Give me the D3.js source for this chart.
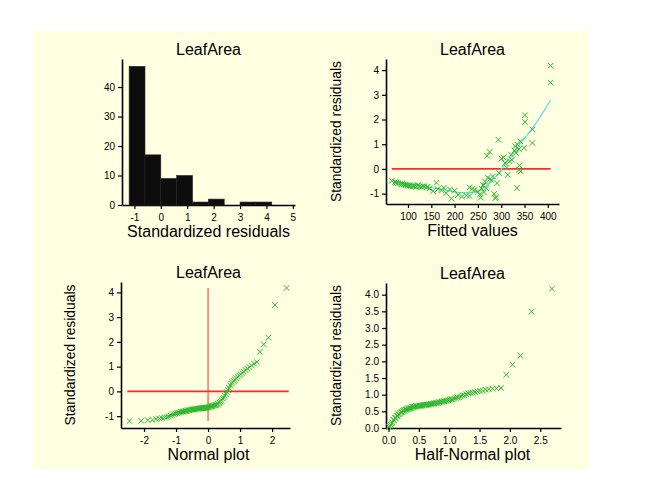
<!DOCTYPE html>
<html>
<head>
<meta charset="utf-8">
<script src="https://cdn.jsdelivr.net/npm/d3@7"></script>
<style>
  body { margin: 0; background: #fff; }
  text { font-family: "Liberation Sans", Arial, sans-serif; fill: #000; }
</style>
</head>
<body>
<svg id="chart"></svg>
<script>
// Standardized residuals of the LeafArea model (sorted), with matching fitted values
var stdResiduals = [
  -1.20, -1.19, -1.16, -1.15, -1.12, -1.10, -1.08, -1.06, -1.04, -1.01,
  -0.98, -0.95, -0.92, -0.90, -0.88, -0.86, -0.85, -0.83, -0.82, -0.81,
  -0.80, -0.79, -0.78, -0.77, -0.76, -0.75, -0.74, -0.73, -0.73, -0.72,
  -0.71, -0.71, -0.70, -0.70, -0.69, -0.69, -0.68, -0.68, -0.67, -0.67,
  -0.66, -0.66, -0.65, -0.65, -0.64, -0.63, -0.62, -0.60, -0.59, -0.58,
  -0.57, -0.56, -0.55, -0.53, -0.51, -0.48, -0.45, -0.41, -0.36, -0.30,
  -0.24, -0.17, -0.10, -0.03, 0.05, 0.14, 0.24, 0.31, 0.37, 0.42,
  0.47, 0.53, 0.58, 0.64, 0.69, 0.75, 0.80, 0.86, 0.92, 0.98,
  1.05, 1.12, 1.18, 1.60, 1.90, 2.17, 3.49, 4.18
];
var fittedValues = [
  193, 287, 256, 289, 216, 232, 225, 207, 254, 285,
  182, 263, 250, 154, 200, 172, 243, 190, 164, 238,
  258, 146, 268, 334, 177, 232, 140, 129, 142, 118,
  136, 125, 114, 132, 111, 107, 120, 102, 104, 262,
  99, 96, 122, 261, 93, 90, 86, 88, 83, 291,
  78, 161, 75, 72, 265, 65, 279, 276, 271, 282,
  314, 296, 342, 338, 312, 339, 308, 318, 323, 301,
  305, 270, 321, 332, 275, 329, 338, 349, 330, 335,
  367, 341, 294, 367, 351, 351, 406, 406
];

// smoother through the residuals vs fitted plot
var smoothFitted = [65, 100, 126, 150, 175, 200, 215, 235, 250, 262, 275, 288, 301, 320, 340, 369, 406];
var smoothResid  = [-0.50, -0.60, -0.68, -0.76, -0.84, -0.92, -0.96, -0.96, -0.90, -0.78, -0.58, -0.32, 0.0, 0.48, 1.0, 1.70, 2.78];

// histogram bins
var binEdges = [-1.2, -0.6, 0, 0.6, 1.2, 1.8, 2.4, 3.0, 3.6, 4.2];

// tick labels
var histXTicks = [-1, 0, 1, 2, 3, 4, 5];
var histYTicks = [0, 10, 20, 30, 40];
var fitXTicks = [100, 150, 200, 250, 300, 350, 400];
var residTicks = [-1, 0, 1, 2, 3, 4];
var normXTicks = [-2, -1, 0, 1, 2];
var halfXTicks = [0, 0.5, 1.0, 1.5, 2.0, 2.5];
var halfYTicks = [0, 0.5, 1.0, 1.5, 2.0, 2.5, 3.0, 3.5, 4.0];

var titleText = "LeafArea";
var yLabelText = "Standardized residuals";

var green = "#2fb82f", red = "#ff2a2a", cyan = "#5fdcec";

// inverse normal cdf (Acklam) for the probability plots
function qnorm(p) {
  var a = [-3.969683028665376e+01, 2.209460984245205e+02, -2.759285104469687e+02, 1.383577518672690e+02, -3.066479806614716e+01, 2.506628277459239e+00];
  var b = [-5.447609879822406e+01, 1.615858368580409e+02, -1.556989798598866e+02, 6.680131188771972e+01, -1.328068155288572e+01];
  var c = [-7.784894002430293e-03, -3.223964580411365e-01, -2.400758277161838e+00, -2.549732539343734e+00, 4.374664141464968e+00, 2.938163982698783e+00];
  var d = [7.784695709041462e-03, 3.224671290700398e-01, 2.445134137142996e+00, 3.754408661907416e+00];
  var pl = 0.02425, q, r;
  if (p < pl) {
    q = Math.sqrt(-2 * Math.log(p));
    return (((((c[0]*q+c[1])*q+c[2])*q+c[3])*q+c[4])*q+c[5]) / ((((d[0]*q+d[1])*q+d[2])*q+d[3])*q+1);
  }
  if (p > 1 - pl) {
    q = Math.sqrt(-2 * Math.log(1 - p));
    return -(((((c[0]*q+c[1])*q+c[2])*q+c[3])*q+c[4])*q+c[5]) / ((((d[0]*q+d[1])*q+d[2])*q+d[3])*q+1);
  }
  q = p - 0.5; r = q * q;
  return (((((a[0]*r+a[1])*r+a[2])*r+a[3])*r+a[4])*r+a[5])*q / (((((b[0]*r+b[1])*r+b[2])*r+b[3])*r+b[4])*r+1);
}

var svg = d3.select("#chart").attr("width", 652).attr("height", 484);

svg.append("rect")
  .attr("x", 33).attr("y", 31)
  .attr("width", 556).attr("height", 438)
  .attr("fill", "#ffffe1");

function fmtInt(d) { return String(d); }
function fmtOne(d) { return d.toFixed(1); }

// one panel: scales, axes and labels
function makePanel(p) {
  var x = d3.scaleLinear().domain(p.xDomain).range([p.left, p.right]);
  var y = d3.scaleLinear().domain(p.yDomain).range([p.bottom, p.top]);
  var g = svg.append("g");

  var xa = g.append("g")
    .attr("transform", "translate(0," + p.bottom + ")")
    .call(d3.axisBottom(x).tickValues(p.xTicks).tickFormat(p.xFormat)
      .tickSize(4).tickSizeOuter(0).tickPadding(5));
  var ya = g.append("g")
    .attr("transform", "translate(" + p.left + ",0)")
    .call(d3.axisLeft(y).tickValues(p.yTicks).tickFormat(p.yFormat)
      .tickSize(4).tickSizeOuter(0).tickPadding(3));

  [xa, ya].forEach(function(a) {
    a.select(".domain").attr("stroke", "#000").attr("stroke-width", 1.6);
    a.selectAll(".tick line").attr("stroke", "#000").attr("stroke-width", 1.2);
    a.selectAll(".tick text")
      .attr("font-family", "Liberation Sans, Arial, sans-serif")
      .attr("font-size", 10).attr("fill", "#111");
  });

  g.append("text")
    .attr("x", p.cx).attr("y", p.top - 4.5)
    .attr("text-anchor", "middle")
    .attr("font-size", 16)
    .text(titleText);

  g.append("text")
    .attr("x", p.cx).attr("y", p.bottom + 32)
    .attr("text-anchor", "middle")
    .attr("font-size", 16)
    .text(p.xLabel);

  if (p.yLabel) {
    g.append("text")
      .attr("transform", "translate(" + p.yLabelX + "," + ((p.top + p.bottom) / 2) + ") rotate(-90)")
      .attr("text-anchor", "middle")
      .attr("dy", "0.35em")
      .attr("font-size", 15)
      .attr("textLength", 141)
      .attr("lengthAdjust", "spacingAndGlyphs")
      .text(p.yLabel);
  }

  var plot = g.append("g");
  return {g: plot, x: x, y: y};
}

// cross marks
var crossPath = "M-2.8,-2.8L2.8,2.8M-2.8,2.8L2.8,-2.8";
function drawCrosses(panel, xs, ys) {
  panel.g.selectAll("path.pt")
    .data(xs.map(function(v, i) { return [v, ys[i]]; }))
    .enter().append("path")
    .attr("class", "pt")
    .attr("d", crossPath)
    .attr("transform", function(d) { return "translate(" + panel.x(d[0]) + "," + panel.y(d[1]) + ")"; })
    .attr("fill", "none")
    .attr("stroke", green)
    .attr("stroke-width", 1);
}

// ---- histogram of residuals
var hist = makePanel({
  left: 122, right: 295, top: 59, bottom: 205,
  xDomain: [-1.47, 5.08], yDomain: [0, 49.5],
  xTicks: histXTicks, yTicks: histYTicks,
  xFormat: fmtInt, yFormat: fmtInt,
  cx: 208.5, xLabel: "Standardized residuals"
});

var bins = d3.bin()
  .domain([binEdges[0], binEdges[binEdges.length - 1]])
  .thresholds(binEdges.slice(1, -1))(stdResiduals);

hist.g.selectAll("rect")
  .data(bins.filter(function(b) { return b.length > 0; }))
  .enter().append("rect")
  .attr("x", function(b) { return hist.x(b.x0); })
  .attr("width", function(b) { return hist.x(b.x1) - hist.x(b.x0); })
  .attr("y", function(b) { return hist.y(b.length); })
  .attr("height", function(b) { return hist.y(0) - hist.y(b.length); })
  .attr("fill", "#0d0d0d")
  .attr("stroke", "#222")
  .attr("stroke-width", 0.6);

// ---- residuals vs fitted
var fit = makePanel({
  left: 386, right: 559, top: 59, bottom: 204,
  xDomain: [52.8, 424], yDomain: [-1.42, 4.45],
  xTicks: fitXTicks, yTicks: residTicks,
  xFormat: fmtInt, yFormat: fmtInt,
  cx: 472.5, xLabel: "Fitted values",
  yLabel: yLabelText, yLabelX: 336
});

fit.g.append("line")
  .attr("x1", fit.x(d3.min(fittedValues))).attr("x2", fit.x(d3.max(fittedValues)))
  .attr("y1", fit.y(0)).attr("y2", fit.y(0))
  .attr("stroke", red).attr("stroke-width", 1.6);

fit.g.append("path")
  .datum(smoothFitted.map(function(v, i) { return [v, smoothResid[i]]; }))
  .attr("d", d3.line()
    .x(function(d) { return fit.x(d[0]); })
    .y(function(d) { return fit.y(d[1]); })
    .curve(d3.curveMonotoneX))
  .attr("fill", "none").attr("stroke", cyan).attr("stroke-width", 1.3);

drawCrosses(fit, fittedValues, stdResiduals);

// ---- normal probability plot
var sorted = stdResiduals.slice().sort(d3.ascending);
var n = sorted.length;
var normQ = sorted.map(function(v, i) { return qnorm((i + 1 - 0.375) / (n + 0.25)); });

var norm = makePanel({
  left: 121, right: 290, top: 282, bottom: 428,
  xDomain: [-2.72, 2.56], yDomain: [-1.48, 4.42],
  xTicks: normXTicks, yTicks: residTicks,
  xFormat: fmtInt, yFormat: fmtInt,
  cx: 208.5, xLabel: "Normal plot",
  yLabel: yLabelText, yLabelX: 70
});

norm.g.append("line")
  .attr("x1", norm.x(d3.min(normQ) - 0.07)).attr("x2", norm.x(d3.max(normQ) + 0.07))
  .attr("y1", norm.y(0)).attr("y2", norm.y(0))
  .attr("stroke", red).attr("stroke-width", 1.6);
norm.g.append("line")
  .attr("x1", norm.x(0)).attr("x2", norm.x(0))
  .attr("y1", norm.y(d3.min(sorted))).attr("y2", norm.y(d3.max(sorted)))
  .attr("stroke", red).attr("stroke-width", 1);

drawCrosses(norm, normQ, sorted);

// ---- half-normal plot
var absSorted = stdResiduals.map(Math.abs).sort(d3.ascending);
var halfQ = absSorted.map(function(v, i) { return qnorm((n + i + 1 - 0.125) / (2 * n + 0.5)); });

var half = makePanel({
  left: 386, right: 561, top: 283, bottom: 428,
  xDomain: [-0.041, 2.842], yDomain: [0, 4.35],
  xTicks: halfXTicks, yTicks: halfYTicks,
  xFormat: fmtOne, yFormat: fmtOne,
  cx: 472.5, xLabel: "Half-Normal plot",
  yLabel: yLabelText, yLabelX: 336
});

drawCrosses(half, halfQ, absSorted);
</script>
</body>
</html>
